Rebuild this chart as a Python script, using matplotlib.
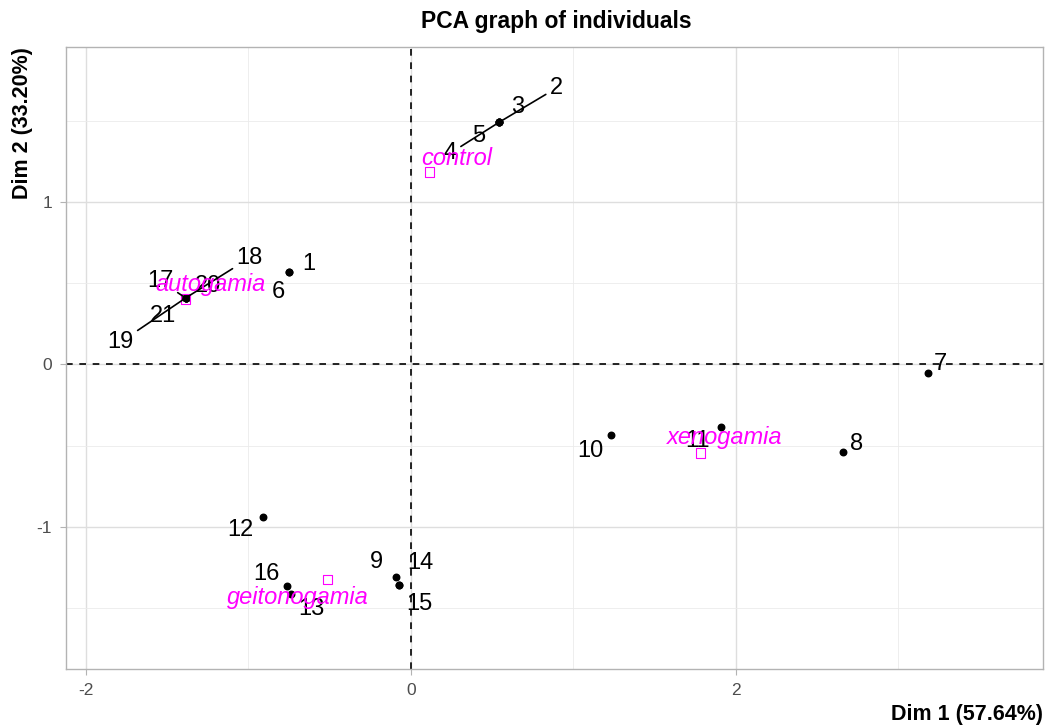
import matplotlib
matplotlib.use("Agg")
import matplotlib.pyplot as plt

plt.rcParams['font.family'] = ['Liberation Sans', 'DejaVu Sans']
plt.rcParams['axes.unicode_minus'] = False

# individuals (coordinates on Dim 1 / Dim 2)
ind_labels = ['1', '2', '3', '4', '5', '6', '7', '8', '9', '10', '11',
              '12', '13', '14', '15', '16', '17', '18', '19', '20', '21']
dim1 = [-0.753, 0.544, 0.544, 0.544, 0.544, -0.753, 3.183, 2.657, -0.089, 1.233, 1.909,
        -0.913, -0.741, -0.071, -0.071, -0.760, -1.387, -1.387, -1.387, -1.387, -1.387]
dim2 = [0.569, 1.491, 1.491, 1.491, 1.491, 0.569, -0.052, -0.538, -1.310, -0.434, -0.385,
        -0.938, -1.411, -1.359, -1.359, -1.362, 0.409, 0.409, 0.409, 0.409, 0.409]

# supplementary qualitative categories
cat_labels = ['control', 'autogamia', 'xenogamia', 'geitonogamia']
cat_dim1 = [0.114, -1.387, 1.780, -0.514]
cat_dim2 = [1.184, 0.403, -0.544, -1.322]

# label offsets (pixels), mimic ggrepel placement
ind_offset = {'1': (20, 8), '2': (57, 34), '3': (18, 15), '4': (-49, -31), '5': (-21, -14),
              '6': (-10, -20), '7': (12, 9), '8': (14, 8), '9': (-20, 15), '10': (-21, -16),
              '11': (-24, -14), '12': (-22, -13), '13': (21, -15), '14': (21, 22),
              '15': (20, -19), '16': (-21, 12), '17': (-25, 17), '18': (64, 40),
              '19': (-65, -44), '20': (22, 12), '21': (-23, -18)}
with_segment = ['2', '4', '17', '18', '19']
cat_offset = {'control': (27, 14), 'autogamia': (25, 14), 'xenogamia': (25, 15),
              'geitonogamia': (-30, -18)}

fig = plt.figure(figsize=(10.51, 7.28), dpi=100)
ax = fig.add_axes([0.0628, 0.0807, 0.9296, 0.8547])

ax.set_xlim(-2.123, 3.890)
ax.set_ylim(-1.875, 1.953)

# grid like theme_light
ax.set_xticks([-2, 0, 2])
ax.set_yticks([-1, 0, 1])
ax.set_xticks([-1, 1, 3], minor=True)
ax.set_yticks([-1.5, -0.5, 0.5, 1.5], minor=True)
ax.grid(which='major', color='#dedede', lw=1.0)
ax.grid(which='minor', color='#ebebeb', lw=0.6)
ax.set_axisbelow(True)
for s in ax.spines.values():
    s.set_color('#b3b3b3')
    s.set_linewidth(1.0)
ax.tick_params(which='major', length=4, color='#b3b3b3', labelsize=12.5, labelcolor='#4d4d4d', pad=6)
ax.tick_params(which='minor', length=0)

ax.axhline(0, color='black', ls=(0, (4, 4)), lw=1.2, zorder=1)
ax.axvline(0, color='black', ls=(0, (4, 4)), lw=1.2, zorder=1)

ax.scatter(dim1, dim2, s=22, color='black', zorder=3)
for lab, x, y in zip(ind_labels, dim1, dim2):
    dx, dy = ind_offset[lab]
    arrow = None
    if lab in with_segment:
        arrow = dict(arrowstyle='-', color='black', lw=1.2, shrinkA=1, shrinkB=0)
    ax.annotate(lab, (x, y), xytext=(dx, dy), textcoords='offset pixels',
                ha='center', va='center', fontsize=17, color='black',
                arrowprops=arrow, zorder=4)

ax.scatter(cat_dim1, cat_dim2, s=45, marker='s', facecolors='none',
           edgecolors='#ff00ff', lw=0.8, zorder=3)
for lab, x, y in zip(cat_labels, cat_dim1, cat_dim2):
    dx, dy = cat_offset[lab]
    ax.annotate(lab, (x, y), xytext=(dx, dy), textcoords='offset pixels',
                ha='center', va='center', fontsize=17, style='italic',
                color='#ff00ff', zorder=5)

fig.text(0.5292, 0.9698, 'PCA graph of individuals', ha='center', va='center',
         fontsize=16.5, fontweight='bold')
fig.text(0.9924, 0.0179, 'Dim 1 (57.64%)', ha='right', va='center',
         fontsize=15.5, fontweight='bold')
fig.text(0.021, 0.9354, 'Dim 2 (33.20%)', ha='center', va='top', rotation=90,
         fontsize=15.5, fontweight='bold')

fig.savefig('out.png', dpi=100)
